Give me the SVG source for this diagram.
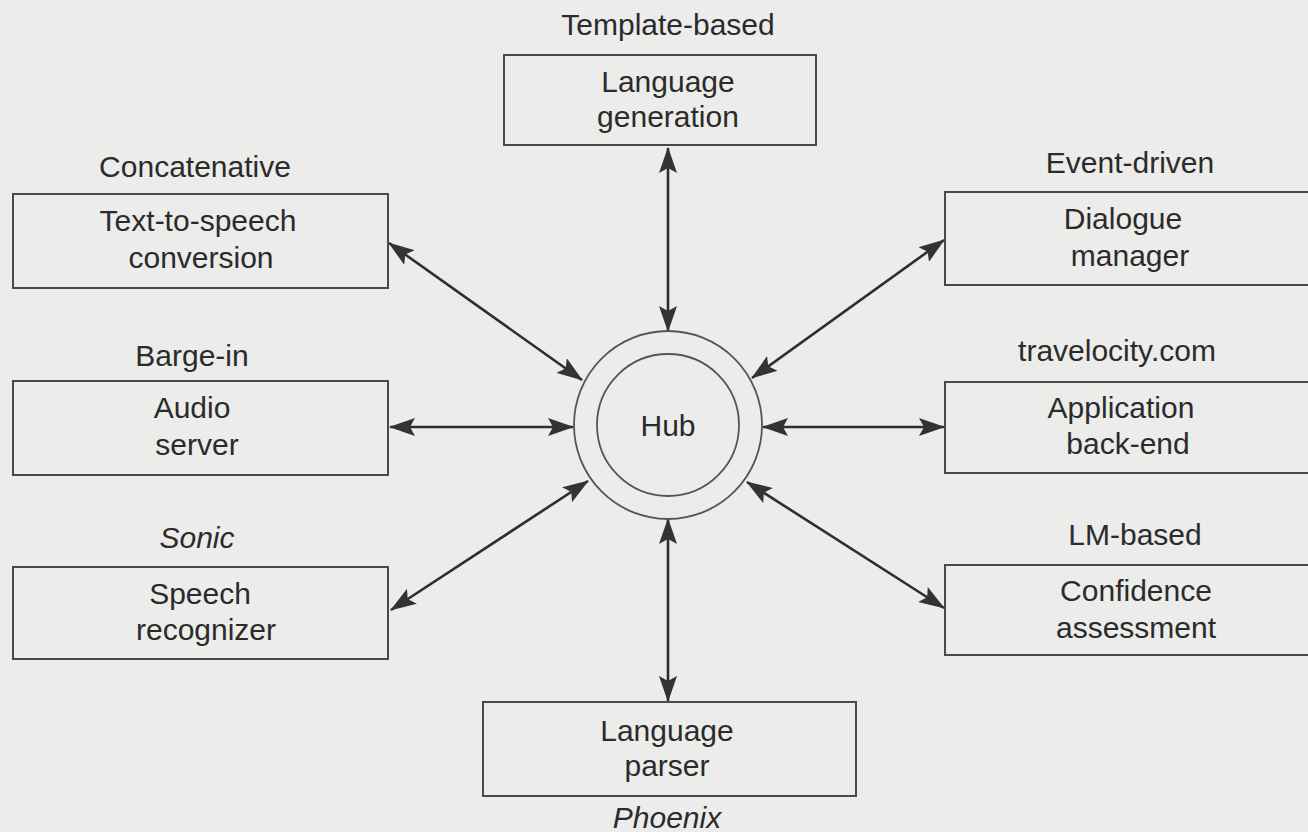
<svg xmlns="http://www.w3.org/2000/svg" width="1308" height="832" viewBox="0 0 1308 832">
  <style>
    .box { fill: none; stroke: #4a4a4a; stroke-width: 2; }
    .ring { fill: none; stroke: #555; stroke-width: 1.8; }
    .lbl { font-family: "Liberation Sans", Arial, sans-serif; font-size: 30px; fill: #2b2b2b; text-anchor: middle; }
    .it { font-style: italic; }
    .link { stroke: #2e2e2e; stroke-width: 2.6; fill: none; marker-start: url(#head); marker-end: url(#head); }
  </style>
  <defs>
    <marker id="head" viewBox="0 0 26 18" refX="25" refY="9" markerWidth="26" markerHeight="18" markerUnits="userSpaceOnUse" orient="auto-start-reverse">
      <path d="M0,0 L26,9 L0,18 L5,9 Z" fill="#333"/>
    </marker>
  </defs>

  <rect width="1308" height="832" fill="#ececea"/>

  <!-- connectors between the hub and each server -->
  <g id="connectors">
    <line class="link" x1="668" y1="331" x2="668" y2="148"/>
    <line class="link" x1="582" y1="380" x2="389" y2="243"/>
    <line class="link" x1="573" y1="427" x2="390" y2="427"/>
    <line class="link" x1="588" y1="481" x2="391" y2="610"/>
    <line class="link" x1="668" y1="519" x2="668" y2="701"/>
    <line class="link" x1="747" y1="482" x2="944" y2="608"/>
    <line class="link" x1="763" y1="427" x2="944" y2="427"/>
    <line class="link" x1="752" y1="378" x2="944" y2="240"/>
  </g>

  <g id="hub">
    <circle class="ring" cx="668" cy="425" r="94"/>
    <circle class="ring" cx="668" cy="425" r="71"/>
    <text class="lbl" x="668" y="436">Hub</text>
  </g>

  <g id="language-generation">
    <text class="lbl" x="668" y="35">Template-based</text>
    <rect class="box" x="504" y="55" width="312" height="90"/>
    <text class="lbl" x="668" y="92">Language</text>
    <text class="lbl" x="668" y="127">generation</text>
  </g>

  <g id="text-to-speech">
    <text class="lbl" x="195" y="177">Concatenative</text>
    <rect class="box" x="13" y="194" width="375" height="94"/>
    <text class="lbl" x="198" y="231">Text-to-speech</text>
    <text class="lbl" x="201" y="268">conversion</text>
  </g>

  <g id="audio-server">
    <text class="lbl" x="192" y="366">Barge-in</text>
    <rect class="box" x="13" y="381" width="375" height="94"/>
    <text class="lbl" x="192" y="418">Audio</text>
    <text class="lbl" x="197" y="455">server</text>
  </g>

  <g id="speech-recognizer">
    <text class="lbl it" x="197" y="548">Sonic</text>
    <rect class="box" x="13" y="567" width="375" height="92"/>
    <text class="lbl" x="200" y="604">Speech</text>
    <text class="lbl" x="206" y="640">recognizer</text>
  </g>

  <g id="language-parser">
    <rect class="box" x="483" y="702" width="373" height="94"/>
    <text class="lbl" x="667" y="741">Language</text>
    <text class="lbl" x="667" y="776">parser</text>
    <text class="lbl it" x="667" y="828">Phoenix</text>
  </g>

  <g id="dialogue-manager">
    <text class="lbl" x="1130" y="173">Event-driven</text>
    <rect class="box" x="945" y="192" width="380" height="93"/>
    <text class="lbl" x="1123" y="229">Dialogue</text>
    <text class="lbl" x="1130" y="266">manager</text>
  </g>

  <g id="application-back-end">
    <text class="lbl" x="1117" y="361">travelocity.com</text>
    <rect class="box" x="945" y="382" width="380" height="91"/>
    <text class="lbl" x="1121" y="418">Application</text>
    <text class="lbl" x="1128" y="454">back-end</text>
  </g>

  <g id="confidence-assessment">
    <text class="lbl" x="1135" y="545">LM-based</text>
    <rect class="box" x="945" y="565" width="380" height="90"/>
    <text class="lbl" x="1136" y="601">Confidence</text>
    <text class="lbl" x="1136" y="638">assessment</text>
  </g>
</svg>
